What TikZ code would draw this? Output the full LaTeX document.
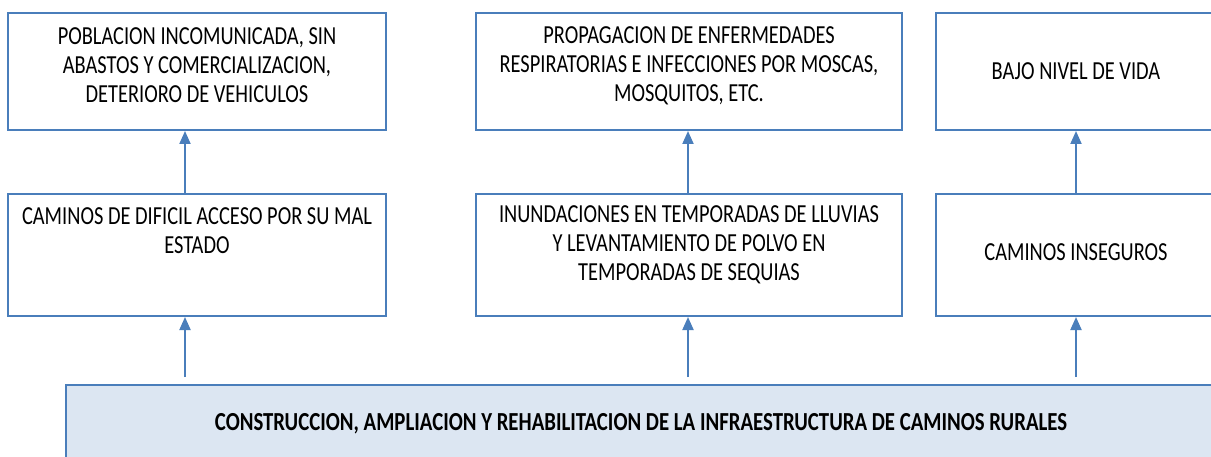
\documentclass[tikz,border=0pt]{standalone}
\usepackage{fontspec}
\setmainfont{Carlito}[FakeStretch=0.785, BoldFeatures={FakeStretch=0.80}]
\usetikzlibrary{arrows.meta}
\definecolor{caja}{HTML}{4A7EBB}
\definecolor{fondo}{HTML}{DCE6F2}
\tikzset{
	caja/.style={draw=caja, line width=2pt, inner sep=0pt},
	texto/.style={align=center, font=\fontsize{26}{29}\selectfont, inner sep=0pt},
	flecha/.style={draw=caja, line width=2pt, -{Triangle[length=13pt,width=11pt]}}
}
\begin{document}
\begin{tikzpicture}[x=1pt,y=1pt]
			%%%%% START %%%%%
			\def\xa{197}
			\def\xb{689}
			\def\xc{1076}
			\def\ya{-71.5}
			\def\yb{-255}
			\useasboundingbox (0,0) rectangle (1211,-457);
			\clip (0,0) rectangle (1211,-457);
			
			% efectos
			\node[caja, minimum width=378, minimum height=117] (pob) at (\xa,\ya) {};
			\node[caja, minimum width=426, minimum height=117] (prop) at (\xb,\ya) {};
			\node[caja, minimum width=280, minimum height=117] (bajo) at (\xc,\ya) {};
			
			% causas
			\node[caja, minimum width=378, minimum height=122] (cam) at (\xa,\yb) {};
			\node[caja, minimum width=426, minimum height=122] (inu) at (\xb,\yb) {};
			\node[caja, minimum width=280, minimum height=122] (ins) at (\xc,\yb) {};
			
			% problema
			\node[caja, fill=fondo, minimum width=1150, minimum height=78] (base) at (641,-424) {};
			
			\node[texto] (pobt) at ([yshift=6]pob.center) {POBLACION INCOMUNICADA, SIN\\ABASTOS Y COMERCIALIZACION,\\DETERIORO DE VEHICULOS};
			\node[texto] (propt) at ([yshift=6]prop.center) {PROPAGACION DE ENFERMEDADES\\RESPIRATORIAS E INFECCIONES POR MOSCAS,\\MOSQUITOS, ETC.};
			\node[texto] (bajot) at (bajo.center) {BAJO NIVEL DE VIDA};
			\node[texto] (camt) at ([yshift=24]cam.center) {CAMINOS DE DIFICIL ACCESO POR SU MAL\\ESTADO};
			\node[texto] (inut) at ([yshift=10]inu.center) {INUNDACIONES EN TEMPORADAS DE LLUVIAS\\Y LEVANTAMIENTO DE POLVO EN\\TEMPORADAS DE SEQUIAS};
			\node[texto] (inst) at ([yshift=3]ins.center) {CAMINOS INSEGUROS};
			\node[texto, font=\fontsize{26}{29}\selectfont\bfseries] (baset) at (base.center) {CONSTRUCCION, AMPLIACION Y REHABILITACION DE LA INFRAESTRUCTURA DE CAMINOS RURALES};
			
			\draw[flecha] ([xshift=-12]cam.north) -- ([xshift=-12]pob.south);
			\draw[flecha] ([xshift=-1]inu.north) -- ([xshift=-1]prop.south);
			\draw[flecha] (ins.north) -- (bajo.south);
			
			\draw[flecha, shorten <=7pt] (base.north -| cam.north) ++(-12,0) -- ([xshift=-12]cam.south);
			\draw[flecha, shorten <=7pt] (base.north -| inu.north) ++(-1,0) -- ([xshift=-1]inu.south);
			\draw[flecha, shorten <=7pt] (base.north -| ins.north) -- (ins.south);
			%%%%% END %%%%%
\end{tikzpicture}
\end{document}
